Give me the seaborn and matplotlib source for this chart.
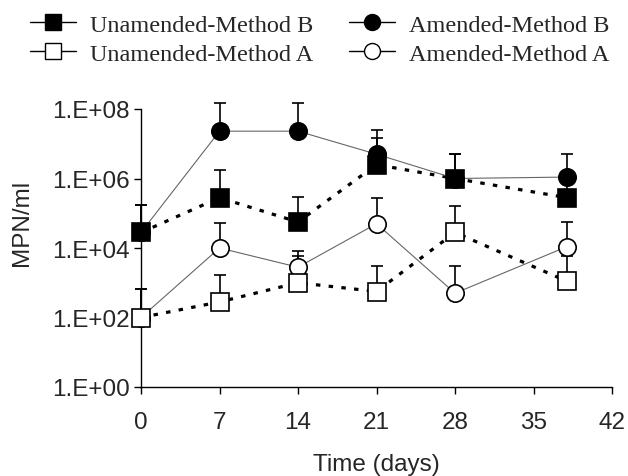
import numpy as np
import pandas as pd
import matplotlib
matplotlib.use("Agg")
import matplotlib.pyplot as plt
import seaborn as sns
from matplotlib.lines import Line2D
from matplotlib.ticker import FixedLocator, NullLocator

# valores (MPN/ml)
dias = [0, 7, 14, 21, 28, 38]

unam_B = [2.8e4, 2.8e5, 5.6e4, 2.5e6, 1.0e6, 2.8e5]
unam_B_sup = [1.7e5, 1.7e6, 3.0e5, 1.5e7, 5.0e6, 1.0e6]
am_B = [2.8e4, 2.3e7, 2.3e7, 5.0e6, 1.0e6, 1.1e6]
am_B_sup = [1.7e5, 1.5e8, 1.5e8, 2.5e7, 5.0e6, 5.0e6]
unam_A = [1.0e2, 2.8e2, 1.0e3, 5.6e2, 2.8e4, 1.1e3]
unam_A_sup = [6.6e2, 1.7e3, 5.9e3, 3.0e3, 1.6e5, 5.9e3]
am_A = [1.0e2, 1.0e4, 2.8e3, 5.0e4, 5.0e2, 1.1e4]
am_A_sup = [6.6e2, 5.2e4, 8.0e3, 2.8e5, 3.0e3, 5.6e4]

etiquetas = ["Unamended-Method B", "Amended-Method B",
             "Unamended-Method A", "Amended-Method A"]
yticks = [1, 1e2, 1e4, 1e6, 1e8]
ytick_labels = ["1.E+00", "1.E+02", "1.E+04", "1.E+06", "1.E+08"]
xticks = [0, 7, 14, 21, 28, 35, 42]

sns.set_style("ticks")
plt.rcParams['font.family'] = ['Liberation Sans', 'DejaVu Sans']

fig = plt.figure(figsize=(6.28, 4.77), dpi=100)
ax = fig.add_axes([141 / 628, 89 / 477, 471 / 628, 278 / 477])

series = [
    (unam_B, unam_B_sup, 's', 'black', False, 5),
    (am_B, am_B_sup, 'o', 'black', True, 4),
    (unam_A, unam_A_sup, 's', 'white', False, 5),
    (am_A, am_A_sup, 'o', 'white', True, 4),
]

for vals, sup, mk, cara, enmendado, z in series:
    df = pd.DataFrame({"dia": dias, "mpn": vals})
    err = [np.zeros(len(vals)), np.array(sup) - np.array(vals)]
    ax.errorbar(dias, vals, yerr=err, fmt='none', ecolor='black',
                elinewidth=1.2, capsize=4.5, capthick=1.2, zorder=2,
                clip_on=False)
    if enmendado:
        sns.lineplot(data=df, x="dia", y="mpn", ax=ax, color='#666666',
                     lw=0.8, zorder=3, marker=None)
    else:
        sns.lineplot(data=df, x="dia", y="mpn", ax=ax, color='black',
                     lw=2.3, zorder=3, marker=None,
                     dashes=False, linestyle=(0, (1.4, 2.6)))
    ax.plot(dias, vals, linestyle='none', marker=mk, markersize=12.5,
            markerfacecolor=cara, markeredgecolor='black',
            markeredgewidth=1.2, zorder=z, clip_on=False)

ax.set_yscale('log')
ax.set_ylim(1, 1e8)
ax.set_xlim(0, 42)
ax.yaxis.set_major_locator(FixedLocator(yticks))
ax.yaxis.set_minor_locator(NullLocator())
ax.set_yticklabels(ytick_labels)
ax.set_xticks(xticks)
ax.tick_params(axis='both', labelsize=17.5, length=5, width=1,
               direction='out', color='black', pad=3)
ax.tick_params(axis='x', pad=12)
ax.set_xlabel("Time (days)", fontsize=17.5, labelpad=15)
ax.set_ylabel("MPN/ml", fontsize=17.5)
ax.yaxis.set_label_coords(-0.229, 0.594)
sns.despine(ax=ax)
for s in ['left', 'bottom']:
    ax.spines[s].set_linewidth(1)
    ax.spines[s].set_color('black')

manijas = [
    Line2D([], [], color='black', lw=1, marker='s', markersize=11.5,
           markerfacecolor='black', markeredgecolor='black'),
    Line2D([], [], color='black', lw=1, marker='s', markersize=11.5,
           markerfacecolor='white', markeredgecolor='black'),
    Line2D([], [], color='black', lw=1, marker='o', markersize=11.5,
           markerfacecolor='black', markeredgecolor='black'),
    Line2D([], [], color='black', lw=1, marker='o', markersize=11.5,
           markerfacecolor='white', markeredgecolor='black'),
]
textos = [etiquetas[0], etiquetas[2], etiquetas[1], etiquetas[3]]
fig.legend(manijas, textos, loc='upper left', ncol=2,
           bbox_to_anchor=(15.5 / 628, 1 - 0 / 477), frameon=False,
           prop={'family': 'Liberation Serif', 'size': 17.5},
           handlelength=1.9, handletextpad=0.58, columnspacing=1.44,
           labelspacing=0.3, borderaxespad=0.2)

plt.savefig("out.png", dpi=100)
